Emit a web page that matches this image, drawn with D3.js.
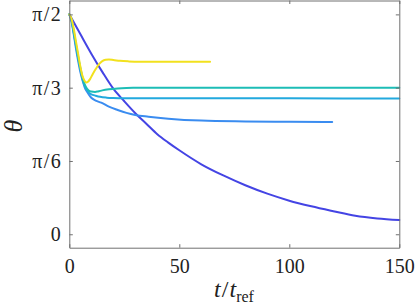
<!DOCTYPE html>
<html>
<head>
<meta charset="utf-8">
<title>theta vs t</title>
<script src="https://d3js.org/d3.v7.min.js"></script>
<style>
  body { margin: 0; background: #fff; }
  svg text { font-family: "Liberation Serif", "DejaVu Serif", serif; fill: #222; }
  .line { fill: none; stroke-width: 2px; stroke-linejoin: round; stroke-linecap: round; }
</style>
</head>
<body>
<div id="chart"></div>
<script>
var PI = Math.PI;

// series: time (t/t_ref) and angle theta (rad)
var tDark  = [0, 5, 10, 15, 20, 25, 30, 35, 40, 45, 50, 60, 70, 80, 90, 100, 110, 120, 130, 140, 150];
var thDark = [1.571, 1.43, 1.29, 1.16, 1.04, 0.95, 0.865, 0.79, 0.715, 0.655, 0.60, 0.50, 0.42, 0.35, 0.29, 0.24, 0.20, 0.165, 0.132, 0.113, 0.102];

var tMed  = [0, 1, 2, 3, 4, 5, 6, 7, 8, 9, 10, 12, 14.5, 18, 22, 26, 30, 36, 45, 60, 80, 100, 119.5];
var thMed = [1.571, 1.52, 1.43, 1.33, 1.24, 1.16, 1.10, 1.05, 1.02, 0.995, 0.975, 0.955, 0.94, 0.912, 0.888, 0.867, 0.852, 0.840, 0.826, 0.812, 0.806, 0.803, 0.802];

var tCyan  = [0, 1, 2, 3, 4, 5, 6, 7, 8, 9, 10, 12, 14, 17, 20, 25, 30, 40, 60, 100, 150];
var thCyan = [1.571, 1.53, 1.44, 1.35, 1.26, 1.18, 1.11, 1.06, 1.03, 1.01, 1.0, 0.99, 0.982, 0.976, 0.973, 0.971, 0.971, 0.971, 0.971, 0.971, 0.970];

var tTeal  = [0, 1, 2, 3, 4, 5, 6, 7, 8, 9, 10, 11.7, 13, 15, 18, 22, 26, 30, 40, 60, 100, 150];
var thTeal = [1.571, 1.53, 1.45, 1.36, 1.27, 1.19, 1.12, 1.07, 1.04, 1.025, 1.02, 1.017, 1.02, 1.028, 1.036, 1.042, 1.045, 1.046, 1.047, 1.047, 1.047, 1.046];

var tYel  = [0, 1, 2, 3, 4, 5, 6, 7, 7.7, 8.5, 9.5, 10.5, 12, 13.5, 15, 16.5, 18, 20, 23, 27, 32, 40, 50, 64];
var thYel = [1.571, 1.54, 1.47, 1.38, 1.29, 1.20, 1.13, 1.095, 1.085, 1.09, 1.11, 1.14, 1.18, 1.215, 1.237, 1.246, 1.248, 1.245, 1.239, 1.235, 1.233, 1.233, 1.233, 1.233];

var xTicks = [0, 50, 100, 150];
var yTicks = [0, PI / 6, PI / 3, PI / 2];
var yTickLabels = ["0", "\u03c0/6", "\u03c0/3", "\u03c0/2"];

var series = [
  { t: tDark, th: thDark, color: "#4444e4" },
  { t: tMed,  th: thMed,  color: "#3a8cf0" },
  { t: tCyan, th: thCyan, color: "#22a9de" },
  { t: tTeal, th: thTeal, color: "#1dbdb6" },
  { t: tYel,  th: thYel,  color: "#f2e11e" }
];

var width = 415, height = 307;
var plotL = 69.3, plotR = 399.3, plotT = 0.5, plotB = 247.7;

var svg = d3.select("#chart").append("svg")
    .attr("width", width)
    .attr("height", height);

var x = d3.scaleLinear().domain([0, 150]).range([plotL, plotR]);
var y = d3.scaleLinear().domain([-0.096, 1.670]).range([plotB, plotT]);

var line = d3.line()
    .curve(d3.curveMonotoneX)
    .x(function(d) { return x(d[0]); })
    .y(function(d) { return y(d[1]); });

// lines
svg.append("g").selectAll("path")
  .data(series).enter()
  .append("path")
    .attr("class", "line")
    .attr("stroke", function(d) { return d.color; })
    .attr("d", function(d) { return line(d.t.map(function(v, i) { return [v, d.th[i]]; })); });

// axes, matlab style box with inward ticks
var axisColor = "#707070";
var tl = 3.5;

var gx = svg.append("g")
    .attr("transform", "translate(0," + plotB + ")")
    .call(d3.axisBottom(x).tickValues(xTicks).tickSizeInner(-tl).tickSizeOuter(0).tickPadding(8)
      .tickFormat(d3.format("d")));
var gxTop = svg.append("g")
    .attr("transform", "translate(0," + plotT + ")")
    .call(d3.axisTop(x).tickValues(xTicks).tickSizeInner(-tl).tickSizeOuter(0).tickFormat(""));
var gy = svg.append("g")
    .attr("transform", "translate(" + plotL + ",0)")
    .call(d3.axisLeft(y).tickValues(yTicks).tickSizeInner(-tl).tickSizeOuter(0).tickPadding(7)
      .tickFormat(function(d, i) { return yTickLabels[i]; }));
var gyRight = svg.append("g")
    .attr("transform", "translate(" + plotR + ",0)")
    .call(d3.axisRight(y).tickValues(yTicks).tickSizeInner(-tl).tickSizeOuter(0).tickFormat(""));

[gx, gxTop, gy, gyRight].forEach(function(g) {
  g.selectAll(".domain").attr("stroke", axisColor);
  g.selectAll(".tick line").attr("stroke", axisColor);
  g.selectAll("text")
    .attr("font-family", "'Liberation Serif', serif")
    .attr("font-size", 20)
    .attr("fill", "#222");
});

gx.selectAll("text").attr("dy", "0.85em");
gy.selectAll("text").attr("letter-spacing", 1.5);

// x label: t / t_ref
var xl = svg.append("text")
    .attr("x", 234)
    .attr("y", 297)
    .attr("text-anchor", "middle")
    .attr("font-size", 24);
xl.append("tspan").attr("font-style", "italic").text("t");
xl.append("tspan").attr("dx", 1).text("/");
xl.append("tspan").attr("dx", 1).attr("font-style", "italic").text("t");
xl.append("tspan").attr("font-size", 16).attr("dy", 5).text("ref");

// y label: theta
svg.append("text")
    .attr("transform", "translate(22,126) rotate(-90)")
    .attr("text-anchor", "middle")
    .attr("font-size", 26)
    .attr("font-style", "italic")
    .text("\u03b8");
</script>
</body>
</html>
